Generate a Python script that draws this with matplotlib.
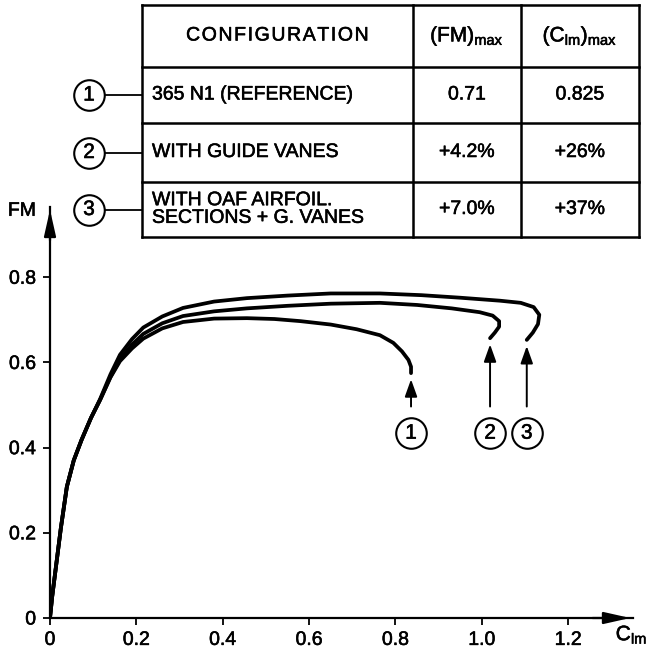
import matplotlib.pyplot as plt
import matplotlib.patheffects as pe

plt.rcParams['font.family'] = ['Liberation Sans', 'DejaVu Sans']
plt.rcParams['mathtext.fontset'] = 'custom'
plt.rcParams['mathtext.rm'] = 'Liberation Sans'

# curve 1 : 365 N1 (reference)
clm_1 = [0, 0.005, 0.012, 0.025, 0.039, 0.055, 0.073, 0.095, 0.116, 0.14, 0.162, 0.19, 0.216,
         0.26, 0.308, 0.38, 0.456, 0.52, 0.58, 0.65, 0.71, 0.764, 0.795, 0.815, 0.83, 0.836, 0.836]
fm_1 = [0, 0.05, 0.106, 0.21, 0.308, 0.37, 0.418, 0.47, 0.512, 0.565, 0.603, 0.633, 0.656,
        0.68, 0.695, 0.703, 0.704, 0.702, 0.697, 0.689, 0.678, 0.664, 0.646, 0.626, 0.606, 0.59, 0.575]
# curve 2 : with guide vanes
clm_2 = [0, 0.005, 0.012, 0.025, 0.039, 0.055, 0.073, 0.095, 0.116, 0.14, 0.162, 0.19, 0.216,
         0.26, 0.308, 0.38, 0.456, 0.55, 0.65, 0.764, 0.85, 0.93, 0.995, 1.025, 1.04, 1.04, 1.03, 1.019]
fm_2 = [0, 0.05, 0.106, 0.21, 0.308, 0.37, 0.418, 0.47, 0.512, 0.566, 0.607, 0.642, 0.667,
        0.692, 0.709, 0.72, 0.727, 0.733, 0.738, 0.740, 0.735, 0.727, 0.718, 0.71, 0.697, 0.684, 0.67, 0.657]
# curve 3 : with OAF airfoil sections + guide vanes
clm_3 = [0, 0.005, 0.012, 0.025, 0.039, 0.055, 0.073, 0.095, 0.116, 0.14, 0.162, 0.19, 0.216,
         0.26, 0.308, 0.38, 0.456, 0.55, 0.65, 0.764, 0.86, 0.95, 1.042, 1.09, 1.12, 1.133, 1.13, 1.118, 1.104]
fm_3 = [0, 0.05, 0.106, 0.21, 0.308, 0.37, 0.418, 0.47, 0.514, 0.572, 0.618, 0.655, 0.682,
        0.708, 0.728, 0.743, 0.751, 0.757, 0.762, 0.762, 0.758, 0.752, 0.745, 0.74, 0.73, 0.712, 0.69, 0.67, 0.653]

labels = ['1', '2', '3']
configs = ['365 N1 (REFERENCE)', 'WITH GUIDE VANES', 'WITH OAF AIRFOIL.\nSECTIONS + G. VANES']
fm_max = ['0.71', '+4.2%', '+7.0%']
clm_max = ['0.825', '+26%', '+37%']

xticks = [0, 0.2, 0.4, 0.6, 0.8, 1.0, 1.2]
xtick_labels = ['0', '0.2', '0.4', '0.6', '0.8', '1.0', '1.2']
yticks = [0, 0.2, 0.4, 0.6, 0.8]
ytick_labels = ['0', '0.2', '0.4', '0.6', '0.8']

# slightly heavier strokes, like the printed lettering
bold = [pe.withStroke(linewidth=0.4, foreground='k')]

fig = plt.figure(figsize=(6.47, 6.57), dpi=100)
ax = fig.add_axes([50/647, 39/657, 583/647, 411/657])
ax.set_xlim(0, 1.35)
ax.set_ylim(0, 0.965)
for s in ['top', 'right']:
    ax.spines[s].set_visible(False)
for s in ['left', 'bottom']:
    ax.spines[s].set_linewidth(1.6)
ax.set_xticks(xticks)
ax.set_xticklabels(xtick_labels)
ax.set_yticks(yticks)
ax.set_yticklabels(ytick_labels)
ax.tick_params(length=5, width=1.3, labelsize=14, pad=5)
for lbl in ax.get_xticklabels() + ax.get_yticklabels():
    lbl.set_path_effects(bold)

# axis arrows
ax.annotate('', xy=(1.35, 0), xytext=(1.25, 0), annotation_clip=False,
            arrowprops=dict(arrowstyle='-|>,head_length=0.8,head_width=0.18', color='k', lw=1.6, mutation_scale=20))
ax.annotate('', xy=(0, 0.965), xytext=(0, 0.88), annotation_clip=False,
            arrowprops=dict(arrowstyle='-|>,head_length=0.8,head_width=0.18', color='k', lw=1.6, mutation_scale=20))
ax.text(1.31, -0.04, 'C$_{\\mathregular{lm}}$', fontsize=15, ha='left', va='center', clip_on=False, path_effects=bold)
ax.text(-0.065, 0.955, 'FM', fontsize=14, ha='center', va='center', clip_on=False, path_effects=bold)

curves = [(clm_1, fm_1), (clm_2, fm_2), (clm_3, fm_3)]
for (cx, cy), lab in zip(curves, labels):
    ax.plot(cx, cy, color='k', lw=2.7, solid_capstyle='round', solid_joinstyle='round')
    ax.annotate('', xy=(cx[-1], cy[-1] - 0.008), xytext=(cx[-1], 0.49),
                arrowprops=dict(arrowstyle='-|>,head_length=0.7,head_width=0.25', color='k', lw=1.4, mutation_scale=15))
    ax.plot(cx[-1], 0.434, marker='o', ms=22, mfc='white', mec='k', mew=1.5)
    ax.text(cx[-1], 0.434, lab, fontsize=15, ha='center', va='center', path_effects=bold)

# table in pixel coordinates
ov = fig.add_axes([0, 0, 1, 1])
ov.set_xlim(0, 647)
ov.set_ylim(657, 0)
ov.axis('off')
ov.patch.set_alpha(0)

col_x = [142, 413, 521, 639]
row_y = [5, 67, 123, 182, 237]
for x in col_x:
    ov.plot([x, x], [row_y[0], row_y[-1]], color='k', lw=1.8)
for y in row_y:
    ov.plot([col_x[0], col_x[-1]], [y, y], color='k', lw=1.8)

ov.text((col_x[0] + col_x[1]) / 2, 36, '\u200a'.join('CONFIGURATION'), fontsize=14,
        ha='center', va='center', path_effects=bold)
ov.text((col_x[1] + col_x[2]) / 2, 36, '(FM)$_{\\mathregular{max}}$', fontsize=15, ha='center', va='center',
        path_effects=bold)
ov.text((col_x[2] + col_x[3]) / 2, 36, '(C$_{\\mathregular{lm}}$)$_{\\mathregular{max}}$', fontsize=15,
        ha='center', va='center', path_effects=bold)

for i in range(3):
    yc = (row_y[i + 1] + row_y[i + 2]) / 2
    ov.text(152, yc, configs[i], fontsize=14, ha='left', va='center', linespacing=1.05, path_effects=bold)
    ov.text((col_x[1] + col_x[2]) / 2, yc, fm_max[i], fontsize=14, ha='center', va='center', path_effects=bold)
    ov.text((col_x[2] + col_x[3]) / 2, yc, clm_max[i], fontsize=14, ha='center', va='center', path_effects=bold)
    ov.plot([104, col_x[0]], [yc, yc], color='k', lw=1.3)
    ov.plot(89, yc, marker='o', ms=22, mfc='white', mec='k', mew=1.5)
    ov.text(89, yc, labels[i], fontsize=15, ha='center', va='center', path_effects=bold)

fig.savefig('out.png', dpi=100)
